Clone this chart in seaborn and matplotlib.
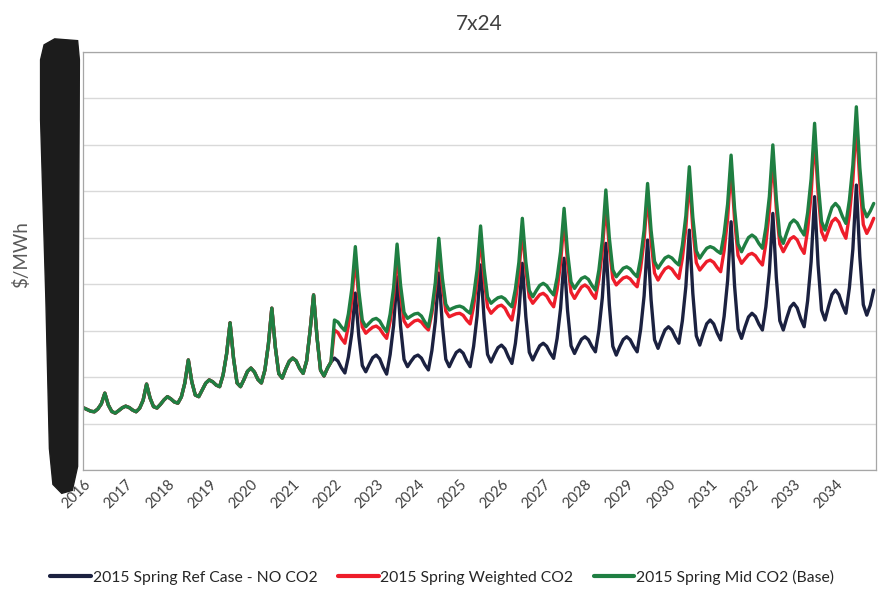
import numpy as np
import pandas as pd
import matplotlib.pyplot as plt
import seaborn as sns
from matplotlib.patches import Polygon

# ---- data (monthly $/MWh, Jan 2016 - Dec 2034) ----
years = list(range(2016, 2035))

# 2016-2021: all three cases are identical
shared = [
    26.7, 26.0, 25.3, 25.1, 26.3, 28.5, 33.1, 28.0, 25.2, 24.5, 25.6, 26.8,   # 2016
    27.5, 26.9, 25.8, 25.1, 26.6, 30.0, 37.0, 31.0, 27.3, 26.7, 28.3, 30.2,   # 2017
    31.6, 30.6, 29.3, 28.8, 31.5, 37.5, 47.4, 38.0, 32.3, 31.6, 34.5, 37.4,   # 2018
    38.8, 38.0, 36.6, 35.9, 41.0, 50.0, 63.4, 48.0, 37.5, 35.9, 39.0, 42.5,   # 2019
    43.9, 42.2, 39.0, 37.5, 43.0, 54.0, 69.7, 53.0, 41.5, 39.6, 43.5, 46.8,   # 2020
    48.2, 47.0, 43.7, 41.6, 47.0, 60.0, 75.4, 57.0, 43.0, 40.5, 43.9, 46.5,   # 2021
]

ref_no_co2 = [
    48.2, 46.9, 44.0, 41.8, 48.7, 59.0, 76.2, 57.6, 45.0, 42.3, 45.5, 48.4,   # 2022
    49.5, 47.9, 44.2, 41.3, 49.7, 62.3, 83.2, 61.9, 47.6, 44.5, 46.8, 48.8,   # 2023
    49.5, 48.2, 45.3, 43.1, 51.4, 64.0, 84.8, 62.6, 47.7, 44.5, 47.7, 50.6,   # 2024
    51.7, 50.3, 47.0, 44.5, 53.3, 66.4, 88.3, 65.3, 49.8, 46.5, 49.8, 52.7,   # 2025
    53.8, 52.2, 48.7, 45.9, 54.5, 67.5, 89.0, 66.1, 50.7, 47.4, 50.6, 53.5,   # 2026
    54.6, 53.3, 50.4, 48.1, 56.7, 69.7, 91.2, 68.6, 53.5, 50.2, 53.4, 56.3,   # 2027
    57.4, 56.1, 53.2, 50.9, 60.2, 74.3, 97.6, 71.1, 53.3, 49.5, 53.1, 56.2,   # 2028
    57.4, 56.1, 53.2, 50.9, 60.5, 75.0, 99.0, 73.4, 56.1, 52.4, 56.6, 60.3,   # 2029
    61.7, 60.3, 57.1, 54.6, 64.3, 79.0, 103.3, 76.1, 57.8, 53.8, 58.7, 63.0,  # 2030
    64.6, 62.9, 59.0, 56.0, 66.2, 81.5, 106.9, 79.3, 60.7, 56.7, 61.6, 65.9,  # 2031
    67.5, 66.1, 62.8, 60.3, 70.3, 85.4, 110.5, 82.9, 64.3, 60.3, 65.5, 70.1,  # 2032
    71.8, 69.8, 65.2, 61.7, 72.9, 89.7, 117.7, 88.5, 68.8, 64.6, 70.4, 75.6,  # 2033
    77.5, 75.5, 71.0, 67.5, 78.5, 95.1, 122.7, 91.9, 71.2, 66.7, 70.9, 77.5,  # 2034
]

weighted_co2 = [
    60.3, 59.2, 56.6, 54.6, 62.1, 73.3, 92.0, 73.8, 61.6, 58.9, 60.3, 61.5,          # 2022
    62.0, 60.9, 58.6, 56.7, 64.0, 74.9, 93.0, 75.8, 64.2, 61.7, 63.0, 64.2,          # 2023
    64.6, 63.7, 61.8, 60.3, 67.4, 78.2, 96.0, 79.5, 68.4, 66.0, 66.7, 67.3,          # 2024
    67.5, 66.6, 64.5, 62.9, 70.5, 82.0, 101.0, 82.6, 70.2, 67.5, 69.1, 70.5,         # 2025
    71.0, 69.7, 66.8, 64.6, 72.5, 84.3, 104.0, 86.3, 74.4, 71.8, 73.7, 75.5,         # 2026
    76.1, 74.9, 72.3, 70.3, 77.8, 89.2, 108.0, 89.2, 76.6, 73.9, 76.5, 78.8,         # 2027
    79.7, 78.5, 75.9, 73.9, 82.1, 94.5, 115.0, 95.6, 82.5, 79.7, 81.3, 82.7,         # 2028
    83.2, 82.3, 80.4, 78.9, 86.9, 99.0, 119.0, 98.5, 84.8, 81.8, 84.4, 86.6,         # 2029
    87.5, 86.5, 84.3, 82.5, 91.2, 104.3, 126.0, 104.1, 89.3, 86.1, 88.0, 89.8,       # 2030
    90.4, 89.4, 87.2, 85.4, 94.5, 108.2, 131.0, 107.9, 92.4, 89.0, 90.9, 92.7,       # 2031
    93.3, 92.3, 90.1, 88.3, 97.6, 111.7, 135.0, 112.5, 97.3, 94.0, 96.9, 99.5,       # 2032
    100.5, 99.1, 95.8, 93.3, 103.4, 118.7, 144.0, 119.3, 102.6, 99.0, 103.2, 107.0,  # 2033
    108.4, 106.7, 102.8, 99.8, 109.8, 124.9, 150.0, 123.5, 105.7, 101.9, 104.8, 108.4,  # 2034
]

mid_co2 = [
    64.6, 63.7, 61.6, 60.0, 67.2, 78.1, 96.2, 77.2, 64.5, 61.7, 63.3, 64.8,          # 2022
    65.3, 64.2, 61.6, 59.6, 67.1, 78.5, 97.3, 79.7, 67.9, 65.3, 66.3, 67.2,          # 2023
    67.5, 66.3, 63.7, 61.7, 69.3, 80.8, 99.8, 82.8, 71.4, 68.9, 69.7, 70.3,          # 2024
    70.6, 70.0, 68.6, 67.5, 75.0, 86.3, 105.1, 86.8, 74.5, 71.8, 73.1, 74.2,         # 2025
    74.6, 73.7, 71.8, 70.3, 77.9, 89.4, 108.4, 89.8, 77.3, 74.6, 77.2, 79.5,         # 2026
    80.4, 79.4, 77.2, 75.4, 82.9, 94.1, 112.7, 93.7, 81.0, 78.2, 80.5, 82.5,         # 2027
    83.2, 82.1, 79.5, 77.5, 86.1, 99.1, 120.6, 100.0, 86.2, 83.2, 85.1, 86.9,        # 2028
    87.5, 86.6, 84.7, 83.2, 91.2, 103.3, 123.4, 103.3, 89.8, 86.9, 89.2, 91.3,       # 2029
    92.1, 91.3, 89.6, 88.3, 96.8, 109.5, 130.6, 108.9, 94.4, 91.2, 93.5, 95.5,       # 2030
    96.2, 95.6, 94.3, 93.3, 101.8, 114.5, 135.6, 112.7, 97.3, 94.0, 97.2, 100.1,     # 2031
    101.2, 100.1, 97.5, 95.5, 104.4, 117.8, 140.0, 116.7, 101.0, 97.6, 102.1, 106.2, # 2032
    107.7, 106.4, 103.5, 101.2, 110.8, 125.3, 149.3, 124.0, 107.0, 103.3, 108.5, 113.1,  # 2033
    114.8, 113.1, 109.2, 106.2, 116.2, 131.3, 156.4, 130.3, 112.8, 109.0, 111.5, 114.8,  # 2034
]

series_names = ["2015 Spring Ref Case - NO CO2",
                "2015 Spring Weighted CO2",
                "2015 Spring Mid CO2 (Base)"]
colors = ["#1b2140", "#ee1d2a", "#1f7f42"]

# build long table
frames = []
for name, tail in zip(series_names, [ref_no_co2, weighted_co2, mid_co2]):
    vals = shared + tail
    frames.append(pd.DataFrame({"month": np.arange(len(vals)),
                                "price": vals, "case": name}))
df = pd.concat(frames, ignore_index=True)

# ---- plot ----
sns.set_theme(style="white")
plt.rcParams['font.family'] = ['Lato', 'DejaVu Sans']

fig = plt.figure(figsize=(8.82, 5.98), dpi=100)
ax = fig.add_axes([0.094, 0.214, 0.899, 0.699])

sns.lineplot(data=df, x="month", y="price", hue="case", hue_order=series_names,
             palette=colors, linewidth=2.4, ax=ax, legend=True)

ax.set_ylim(0, 180)
ax.set_yticks(range(0, 181, 20))
ax.set_xlim(-0.3, 227.6)
ax.set_xticks([12 * i for i in range(len(years))])
ax.set_xticklabels([str(y) for y in years], rotation=45, ha="right",
                   rotation_mode="anchor", fontsize=10.5, color="#404040")
ax.tick_params(axis="x", length=0, pad=5)
ax.tick_params(axis="y", length=0, labelsize=10, labelcolor="#595959", pad=10)
ax.yaxis.grid(True, color="#d9d9d9", linewidth=1)
ax.set_axisbelow(True)
for s in ax.spines.values():
    s.set_color("#a6a6a6")
    s.set_linewidth(0.9)

ax.set_xlabel("")
ax.set_ylabel("")
fig.text(0.024, 0.575, "$/MWh", rotation=90, fontsize=13.5, color="#595959",
         ha="center", va="center")
ax.set_title("7x24", fontsize=15, color="#404040", pad=16)

leg = ax.legend(loc="upper center", bbox_to_anchor=(0.453, -0.205), ncol=3,
                frameon=False, fontsize=11.3, handlelength=2.6,
                columnspacing=1.3, handletextpad=0.1)
for line in leg.get_lines():
    line.set_linewidth(3)

# redaction marker over the y tick labels
bar = Polygon([(0.050, 0.925), (0.062, 0.935), (0.088, 0.932), (0.090, 0.90),
               (0.089, 0.55), (0.088, 0.22), (0.082, 0.180), (0.070, 0.175),
               (0.060, 0.19), (0.056, 0.25), (0.052, 0.50), (0.046, 0.80),
               (0.046, 0.90)],
              closed=True, transform=fig.transFigure, facecolor="#1c1c1c",
              edgecolor="#1c1c1c", zorder=10)
fig.patches.append(bar)

fig.savefig("out.png", dpi=100)
